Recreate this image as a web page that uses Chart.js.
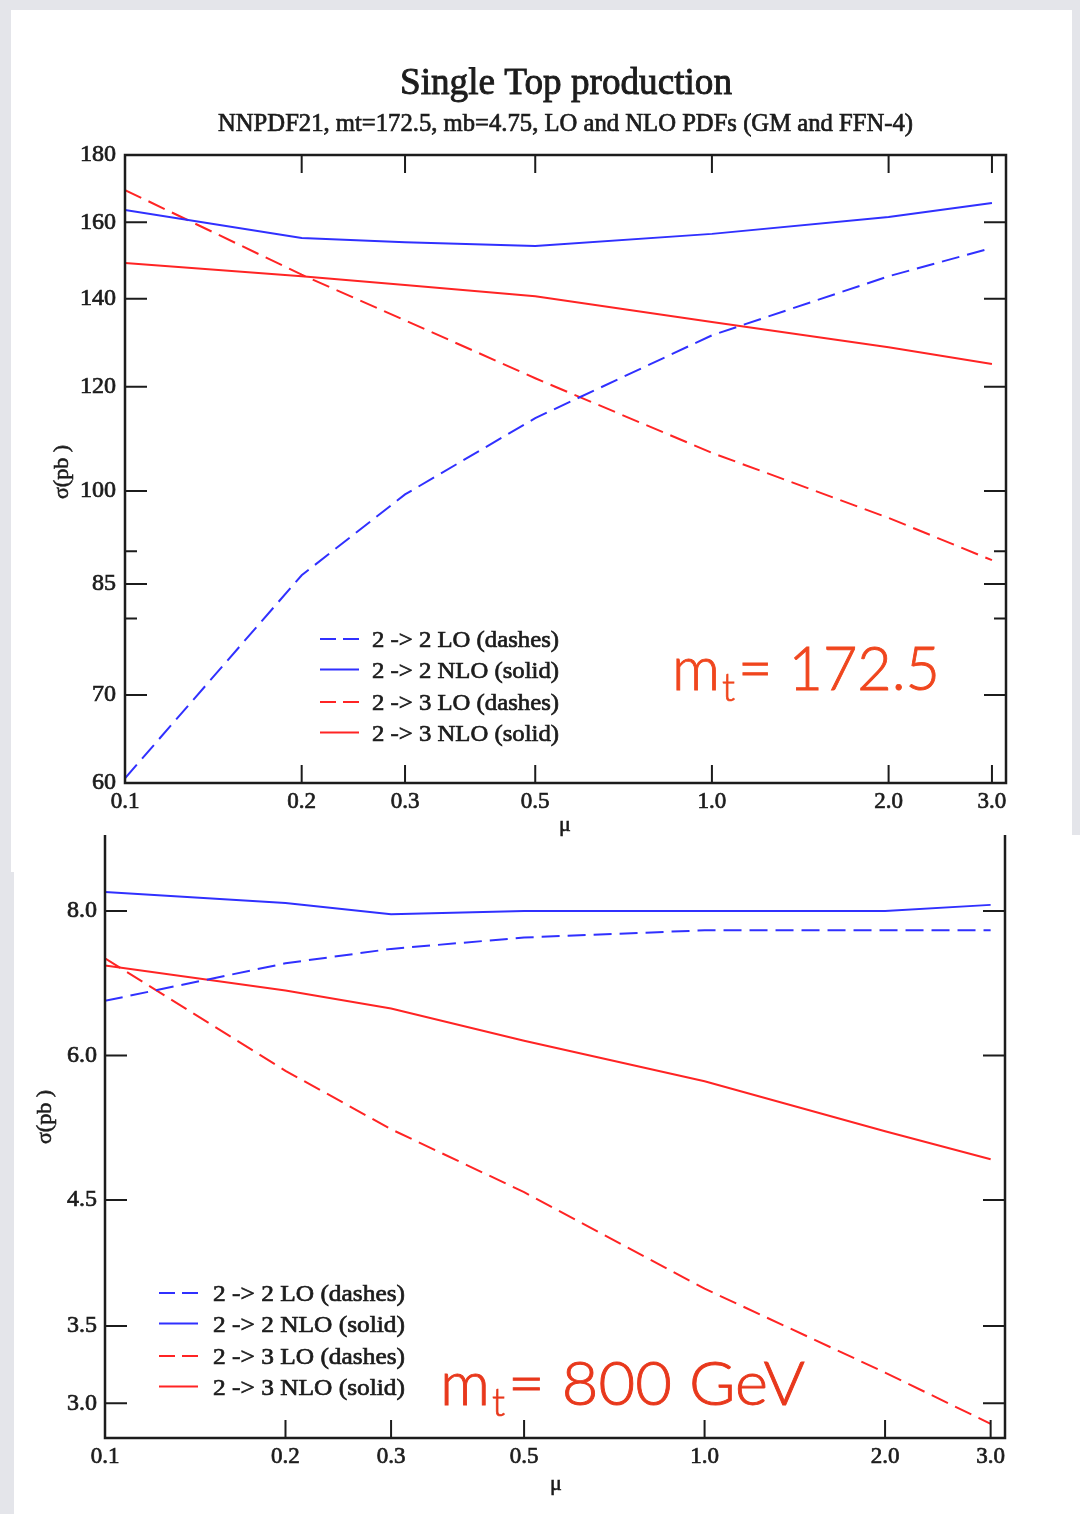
<!DOCTYPE html>
<html>
<head>
<meta charset="utf-8">
<script src="https://cdn.jsdelivr.net/npm/chart.js@4.4.1/dist/chart.umd.min.js"></script>
<style>
  body { margin: 0; width: 1080px; height: 1514px; background: #e4e5ea; position: relative; overflow: hidden; }
  .panel { position: absolute; background: #fff; }
  canvas { position: absolute; left: 0; top: 0; }
</style>
</head>
<body>
<div class="panel" style="left:11px;top:10px;width:1061px;height:862px"></div>
<div class="panel" style="left:14px;top:835px;width:1066px;height:679px"></div>
<canvas id="topChart" width="1080" height="1514"></canvas>
<canvas id="bottomChart" width="1080" height="1514"></canvas>
<script>
// mu values (x) where the curves were computed
const mu = [0.1, 0.2, 0.3, 0.5, 1.0, 2.0, 3.0];
const xTicks = [0.1, 0.2, 0.3, 0.5, 1.0, 2.0, 3.0];
const xTickLabels = ['0.1', '0.2', '0.3', '0.5', '1.0', '2.0', '3.0'];

// mt = 172.5
const top22LO = [60.5, 86.3, 99.4, 113.6, 131.3, 145.6, 153.0];
const top22NLO = [163.5, 155.7, 154.5, 153.5, 156.8, 161.5, 165.5];
const top23LO = [169.3, 146.0, 134.8, 121.8, 106.9, 95.4, 88.6];
const top23NLO = [149.0, 145.6, 143.4, 140.6, 134.4, 128.6, 124.9];
const topYTicks = [60, 70, 85, 100, 120, 140, 160, 180];
const topYLabels = ['60', '70', '85', '100', '120', '140', '160', '180'];
const topYMinor = [80, 90];

// mt = 800 GeV
const bot22LO = [6.69, 7.21, 7.42, 7.59, 7.70, 7.70, 7.70];
const bot22NLO = [8.31, 8.13, 7.95, 8.0, 8.0, 8.0, 8.1];
const bot23LO = [7.28, 5.82, 5.18, 4.57, 3.77, 3.19, 2.88];
const bot23NLO = [7.18, 6.83, 6.59, 6.18, 5.70, 5.16, 4.88];
const botYTicks = [3.0, 3.5, 4.5, 6.0, 8.0];
const botYLabels = ['3.0', '3.5', '4.5', '6.0', '8.0'];

const seriesNames = ['2 -> 2 LO (dashes)', '2 -> 2 NLO (solid)', '2 -> 3 LO (dashes)', '2 -> 3 NLO (solid)'];

const BLUE = '#3030ff';
const RED = '#ff2424';
const INK = '#1c1c1c';
const SERIF = '"Liberation Serif", "DejaVu Serif", serif';
const SANS = 'Lato, "Open Sans", sans-serif';

Chart.defaults.font.family = SERIF;
Chart.defaults.color = INK;

function pts(ys) {
  return mu.map((m, i) => ({ x: m, y: ys[i] }));
}

function makeSets(s22lo, s22nlo, s23lo, s23nlo) {
  const style = [
    [BLUE, [18, 8]], [BLUE, []], [RED, [18, 8]], [RED, []]
  ];
  return [s22lo, s22nlo, s23lo, s23nlo].map((d, i) => ({
    label: seriesNames[i],
    data: pts(d),
    borderColor: style[i][0],
    borderDash: style[i][1],
    borderWidth: 2,
    pointRadius: 0,
    tension: 0,
    fill: false
  }));
}

// draw text squeezed/stretched to a given width, optionally thickened
function fitText(ctx, text, x, y, w, font, color, stroke) {
  ctx.save();
  ctx.font = font;
  ctx.fillStyle = color;
  ctx.strokeStyle = color;
  ctx.textAlign = 'left';
  ctx.textBaseline = 'alphabetic';
  const m = ctx.measureText(text).width;
  ctx.translate(x, y);
  ctx.scale(w / m, 1);
  ctx.fillText(text, 0, 0);
  if (stroke) {
    ctx.lineWidth = stroke;
    ctx.strokeText(text, 0, 0);
  }
  ctx.restore();
}

const framePlugin = {
  id: 'frame',
  afterDatasetsDraw(chart, args, o) {
    const { ctx, chartArea: a } = chart;
    const x = chart.scales.x, y = chart.scales.y;
    ctx.save();
    ctx.strokeStyle = INK;
    ctx.lineWidth = 2.5;
    ctx.beginPath();
    if (o.closed) {
      ctx.rect(a.left, a.top, a.right - a.left, a.bottom - a.top);
    } else {
      ctx.moveTo(a.left, a.top);
      ctx.lineTo(a.left, a.bottom);
      ctx.lineTo(a.right, a.bottom);
      ctx.lineTo(a.right, a.top);
    }
    ctx.stroke();

    ctx.lineWidth = 2;
    ctx.beginPath();
    xTicks.slice(1).forEach(v => {
      const px = x.getPixelForValue(v);
      ctx.moveTo(px, a.bottom);
      ctx.lineTo(px, a.bottom - 18);
      if (o.closed) {
        ctx.moveTo(px, a.top);
        ctx.lineTo(px, a.top + 18);
      }
    });
    o.yTicks.forEach(v => {
      const py = y.getPixelForValue(v);
      if (py <= a.top + 1 || py >= a.bottom - 1) return;
      ctx.moveTo(a.left, py);
      ctx.lineTo(a.left + 22, py);
      ctx.moveTo(a.right, py);
      ctx.lineTo(a.right - 22, py);
    });
    (o.yMinor || []).forEach(v => {
      const py = y.getPixelForValue(v);
      ctx.moveTo(a.left, py);
      ctx.lineTo(a.left + 12, py);
      ctx.moveTo(a.right, py);
      ctx.lineTo(a.right - 12, py);
    });
    ctx.stroke();
    ctx.restore();
  },
  afterDraw(chart, args, o) {
    const { ctx } = chart;
    // legend from the datasets
    chart.data.datasets.forEach((ds, i) => {
      const ly = o.legend.y + i * o.legend.step + (i >= 2 ? 2 : 0);
      ctx.save();
      ctx.strokeStyle = ds.borderColor;
      ctx.lineWidth = 2;
      ctx.setLineDash(ds.borderDash.length ? [16, 7] : []);
      ctx.beginPath();
      ctx.moveTo(o.legend.x, ly);
      ctx.lineTo(o.legend.x + 39, ly);
      ctx.stroke();
      ctx.restore();
      fitText(ctx, ds.label, o.legend.tx, ly + 8, o.legend.tw, '24px ' + SERIF, INK, 0.7);
    });
    // axis titles
    ctx.save();
    ctx.fillStyle = INK;
    ctx.strokeStyle = INK;
    ctx.lineWidth = 0.6;
    ctx.font = '22px ' + SERIF;
    ctx.textAlign = 'center';
    ctx.textBaseline = 'middle';
    ctx.fillText('\u03bc', o.muPos[0], o.muPos[1]);
    ctx.strokeText('\u03bc', o.muPos[0], o.muPos[1]);
    ctx.translate(o.sigPos[0], o.sigPos[1]);
    ctx.rotate(-Math.PI / 2);
    ctx.fillText('\u03c3(pb )', 0, 0);
    ctx.strokeText('\u03c3(pb )', 0, 0);
    ctx.restore();
    // mass annotation
    const an = o.mass;
    fitText(ctx, 'm', an.x, an.y, an.mw, '300 62px ' + SANS, an.color, 0.9);
    fitText(ctx, 't', an.x + an.mw + 2, an.y + 11, 13, '300 40px ' + SANS, an.color, 0.7);
    fitText(ctx, an.text, an.x + an.mw + 18, an.y, an.tw, '300 62px ' + SANS, an.color, 0.9);
    // titles
    if (o.titles) {
      fitText(ctx, 'Single Top production', 400, 94, 332, '38px ' + SERIF, INK, 0.9);
      fitText(ctx, 'NNPDF21, mt=172.5, mb=4.75, LO and NLO PDFs (GM and FFN-4)', 218, 131, 695, '25px ' + SERIF, INK, 0.7);
    }
  }
};

function axisOpts(min, max, ticks, labels, width, height, pad) {
  return {
    x: {
      type: 'logarithmic',
      min: 0.1,
      max: 3.17,
      grid: { display: false },
      border: { display: false },
      afterBuildTicks: s => { s.ticks = xTicks.map(v => ({ value: v })); },
      afterFit: s => { s.height = height; },
      ticks: {
        autoSkip: false,
        maxRotation: 0,
        padding: -3,
        font: { size: 23 },
        textStrokeColor: INK,
        textStrokeWidth: 0.7,
        callback: (v, i) => xTickLabels[i]
      }
    },
    y: {
      type: 'logarithmic',
      min: min,
      max: max,
      grid: { display: false },
      border: { display: false },
      afterBuildTicks: s => { s.ticks = ticks.map(v => ({ value: v })); },
      afterFit: s => { s.width = width; },
      ticks: {
        autoSkip: false,
        padding: pad,
        font: { size: 24 },
        textStrokeColor: INK,
        textStrokeWidth: 0.7,
        callback: (v, i) => labels[i]
      }
    }
  };
}

new Chart(document.getElementById('topChart'), {
  type: 'line',
  data: { datasets: makeSets(top22LO, top22NLO, top23LO, top23NLO) },
  options: {
    responsive: false,
    animation: false,
    layout: { padding: { left: 0, right: 74, top: 155, bottom: 1514 - 783 - 57 } },
    scales: axisOpts(60, 180, topYTicks, topYLabels, 125, 57, 1),
    plugins: {
      legend: { display: false },
      tooltip: { enabled: false },
      frame: {
        closed: true,
        yTicks: topYTicks,
        yMinor: topYMinor,
        legend: { x: 320, y: 639, step: 30.5, tx: 372, tw: 187 },
        muPos: [565, 825],
        sigPos: [62, 472],
        mass: { x: 672, y: 690, mw: 48, tw: 202, text: '= 172.5', color: '#f0461e' },
        titles: true
      }
    }
  },
  plugins: [framePlugin]
});

new Chart(document.getElementById('bottomChart'), {
  type: 'line',
  data: { datasets: makeSets(bot22LO, bot22NLO, bot23LO, bot23NLO) },
  options: {
    responsive: false,
    animation: false,
    layout: { padding: { left: 0, right: 75, top: 835, bottom: 1514 - 1438 - 60 } },
    scales: axisOpts(2.8, 9.31, botYTicks, botYLabels, 105, 60, 0),
    plugins: {
      legend: { display: false },
      tooltip: { enabled: false },
      frame: {
        closed: false,
        yTicks: botYTicks,
        legend: { x: 159, y: 1293, step: 30.5, tx: 213, tw: 192 },
        muPos: [556, 1484],
        sigPos: [45, 1117],
        mass: { x: 440, y: 1405, mw: 50, tw: 297, text: '= 800 GeV', color: '#e8381c' },
        titles: false
      }
    }
  },
  plugins: [framePlugin]
});
</script>
</body>
</html>
